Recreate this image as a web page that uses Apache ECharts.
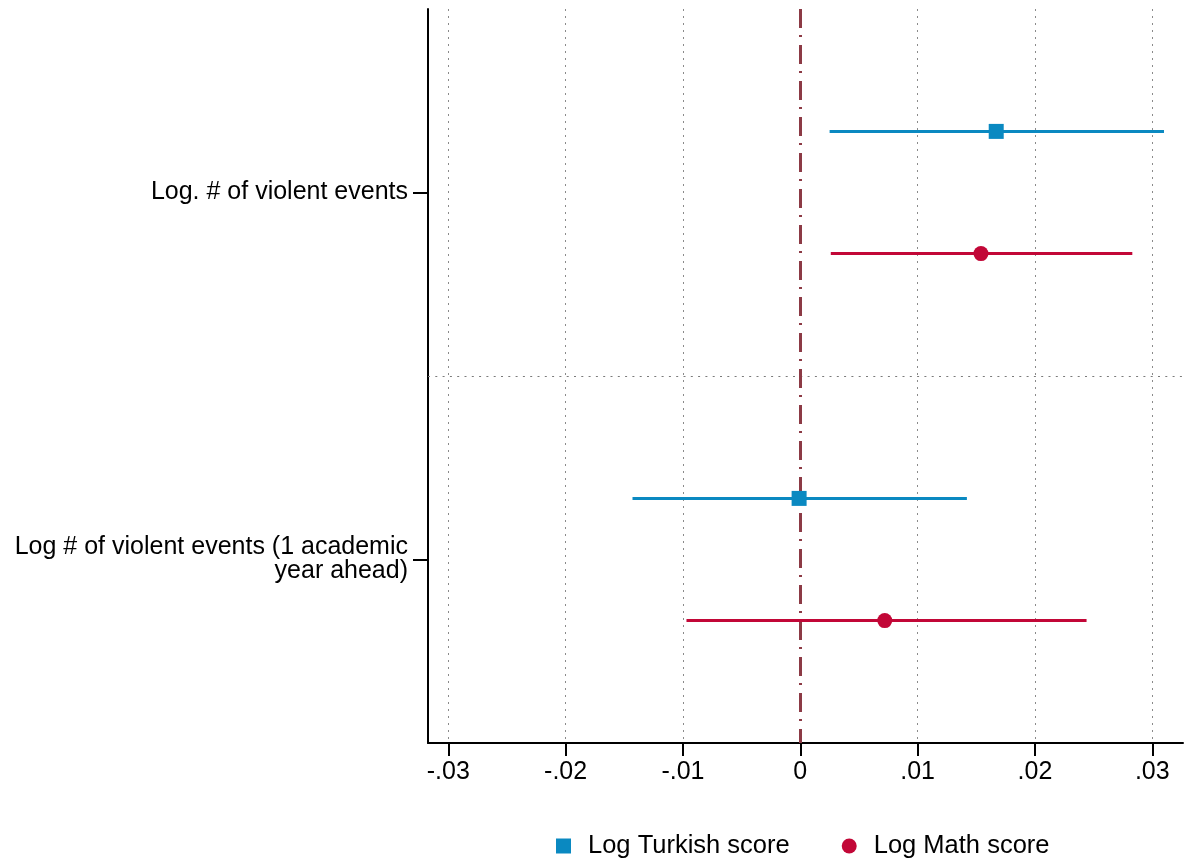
<!DOCTYPE html>
<html>
<head>
<meta charset="utf-8">
<script src="https://cdn.jsdelivr.net/npm/echarts@6/dist/echarts.min.js"></script>
<style>
  html, body { margin: 0; padding: 0; background: #fff; }
  #chart { width: 1185px; height: 863px; }
</style>
</head>
<body>
<div id="chart"></div>
<script>
// Coefficient estimates with 95% confidence intervals
const categories = ['Log. # of violent events', 'Log # of violent events (1 academic\nyear ahead)'];
const seriesNames = ['Log Turkish score', 'Log Math score'];

const turkishEst = [0.0167, -0.0001];
const turkishLo  = [0.0025, -0.0143];
const turkishHi  = [0.0310, 0.0142];

const mathEst = [0.0154, 0.0072];
const mathLo  = [0.0026, -0.0097];
const mathHi  = [0.0283, 0.0244];

const xTicks = [-0.03, -0.02, -0.01, 0, 0.01, 0.02, 0.03];
const xTickLabels = ['-.03', '-.02', '-.01', '0', '.01', '.02', '.03'];

const FONT = '"Liberation Sans", Arial, Helvetica, sans-serif';
const BLUE = '#0a89c1';
const RED = '#c20737';
const ZERO = '#8c3a45';
const OFFSET = 0.1665;

// row positions: group index i sits at i+1, the two outcomes above/below it
const turkPos = categories.map((_, i) => i + 1 - OFFSET);
const mathPos = categories.map((_, i) => i + 1 + OFFSET);

function ciData(lo, hi, pos) {
  return lo.map((v, i) => [v, hi[i], pos[i]]);
}
function ptData(est, pos) {
  return est.map((v, i) => [v, pos[i]]);
}
function ciSeries(name, lo, hi, pos, color) {
  return {
    type: 'custom',
    name: name + ' CI',
    z: 3,
    data: ciData(lo, hi, pos),
    encode: { x: [0, 1], y: 2 },
    renderItem: function (params, api) {
      const a = api.coord([api.value(0), api.value(2)]);
      const b = api.coord([api.value(1), api.value(2)]);
      return {
        type: 'line',
        shape: { x1: a[0], y1: a[1], x2: b[0], y2: b[1] },
        style: { stroke: color, lineWidth: 3 }
      };
    }
  };
}

const chart = echarts.init(document.getElementById('chart'), null, { renderer: 'canvas' });

chart.setOption({
  animation: false,
  backgroundColor: '#fff',
  textStyle: { fontFamily: FONT },
  grid: { left: 428, right: 2, top: 9, bottom: 120, containLabel: false },
  legend: {
    left: 556,
    top: 833,
    padding: 0,
    itemWidth: 15,
    itemHeight: 15,
    itemGap: 52,
    textStyle: { fontFamily: FONT, fontSize: 25.5, color: '#000', padding: [0, 0, 0, 12] },
    data: [
      { name: seriesNames[0], icon: 'rect' },
      { name: seriesNames[1], icon: 'circle' }
    ]
  },
  xAxis: {
    type: 'value',
    min: -0.03173,
    max: 0.03262,
    axisLine: { show: true, onZero: false, lineStyle: { color: '#000', width: 2 } },
    axisTick: { show: true, inside: false, customValues: xTicks, length: 13, lineStyle: { color: '#000', width: 2 } },
    axisLabel: {
      show: true,
      customValues: xTicks,
      margin: 17,
      fontSize: 25,
      fontFamily: FONT,
      color: '#000',
      formatter: function (v) {
        const i = xTicks.findIndex(t => Math.abs(t - v) < 1e-9);
        return i >= 0 ? xTickLabels[i] : '';
      }
    },
    splitLine: { show: false }
  },
  yAxis: {
    type: 'value',
    inverse: true,
    min: 0.5,
    max: 2.5,
    axisLine: { show: true, onZero: false, lineStyle: { color: '#000', width: 2 } },
    axisTick: { show: true, inside: false, customValues: [1, 2], length: 15, lineStyle: { color: '#000', width: 2 } },
    axisLabel: {
      show: true,
      customValues: [1, 2],
      margin: 20,
      fontSize: 25,
      lineHeight: 24,
      fontFamily: FONT,
      color: '#000',
      align: 'right',
      formatter: function (v) {
        const i = Math.round(v) - 1;
        return categories[i] || '';
      }
    },
    splitLine: { show: false }
  },
  series: [
    // reference lines: grid at x ticks, group divider, zero line
    {
      type: 'scatter',
      name: 'guides',
      data: [],
      silent: true,
      markLine: {
        silent: true,
        symbol: 'none',
        label: { show: false },
        animation: false,
        z: 1,
        data: xTicks.filter(t => t !== 0).map(t => ({
          xAxis: t,
          lineStyle: { color: '#8a8a8a', width: 1, type: [2, 5] }
        })).concat([
          { yAxis: 1.5, lineStyle: { color: '#7a7a7a', width: 1, type: [2, 5.3] } },
          { xAxis: 0, lineStyle: { color: ZERO, width: 3, type: [19, 7, 2, 8] } }
        ])
      }
    },
    ciSeries(seriesNames[0], turkishLo, turkishHi, turkPos, BLUE),
    ciSeries(seriesNames[1], mathLo, mathHi, mathPos, RED),
    {
      type: 'scatter',
      name: seriesNames[0],
      z: 5,
      symbol: 'rect',
      symbolSize: 15,
      itemStyle: { color: BLUE, opacity: 1 },
      data: ptData(turkishEst, turkPos)
    },
    {
      type: 'scatter',
      name: seriesNames[1],
      z: 5,
      symbol: 'circle',
      symbolSize: 15,
      itemStyle: { color: RED, opacity: 1 },
      data: ptData(mathEst, mathPos)
    }
  ]
});
</script>
</body>
</html>
